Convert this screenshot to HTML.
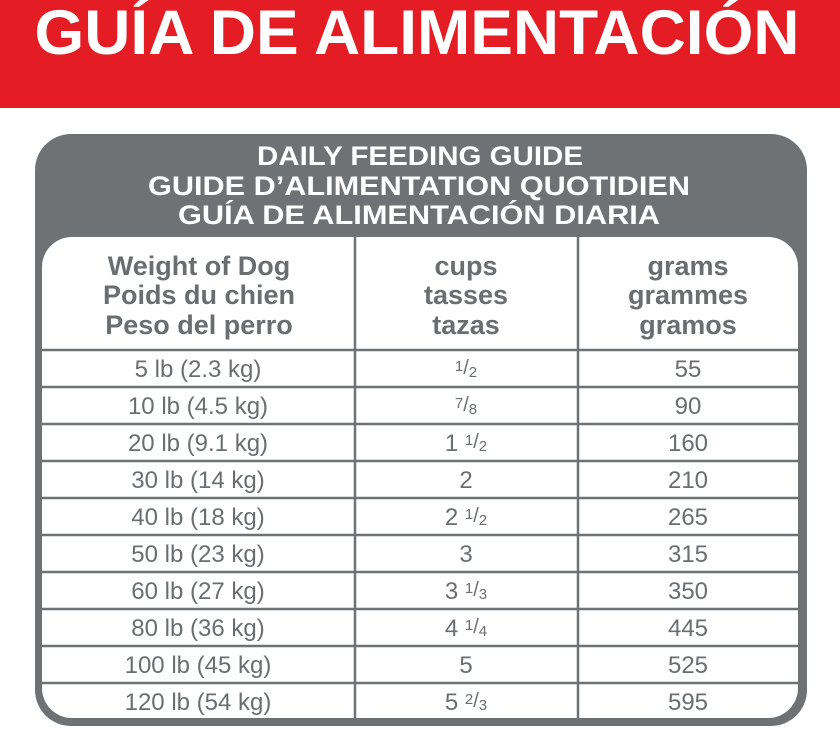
<!DOCTYPE html>
<html><head><meta charset="utf-8"><style>
html,body{margin:0;padding:0;background:#fff;}
svg{display:block;}
</style></head><body>
<svg width="840" height="740" viewBox="0 0 840 740" xmlns="http://www.w3.org/2000/svg">
<rect x="0" y="0" width="840" height="108" fill="#e41d24"/>
<text x="417" y="54" text-anchor="middle" font-family="Liberation Sans, sans-serif" font-weight="bold" font-size="63" fill="#fff" textLength="765" lengthAdjust="spacingAndGlyphs">GUÍA DE ALIMENTACIÓN</text>
<rect x="35" y="134" width="772" height="592" rx="36" fill="#6e7275"/>
<rect x="42" y="237" width="756" height="481" rx="30" fill="#fff"/>
<g font-family="Liberation Sans, sans-serif" font-weight="bold" font-size="27" fill="#fff" text-anchor="middle">
<text x="420" y="165" textLength="326" lengthAdjust="spacingAndGlyphs">DAILY FEEDING GUIDE</text>
<text x="419" y="195" textLength="542" lengthAdjust="spacingAndGlyphs">GUIDE D’ALIMENTATION QUOTIDIEN</text>
<text x="419" y="224" textLength="482" lengthAdjust="spacingAndGlyphs">GUÍA DE ALIMENTACIÓN DIARIA</text>
</g>
<g stroke="#6e7275" stroke-width="2.5">
<line x1="355" y1="237" x2="355" y2="718"/>
<line x1="578" y1="237" x2="578" y2="718"/>
<line x1="42" y1="350" x2="798" y2="350"/>
<line x1="42" y1="387" x2="798" y2="387"/>
<line x1="42" y1="424" x2="798" y2="424"/>
<line x1="42" y1="461" x2="798" y2="461"/>
<line x1="42" y1="498" x2="798" y2="498"/>
<line x1="42" y1="535" x2="798" y2="535"/>
<line x1="42" y1="572" x2="798" y2="572"/>
<line x1="42" y1="609" x2="798" y2="609"/>
<line x1="42" y1="646" x2="798" y2="646"/>
<line x1="42" y1="683" x2="798" y2="683"/>
</g>
<g font-family="Liberation Sans, sans-serif" font-weight="bold" font-size="27" fill="#6a6e71" text-anchor="middle">
<text x="199" y="275">Weight of Dog</text>
<text x="199" y="304">Poids du chien</text>
<text x="199" y="334">Peso del perro</text>
<text x="466" y="275">cups</text>
<text x="466" y="304">tasses</text>
<text x="466" y="334">tazas</text>
<text x="688" y="275">grams</text>
<text x="688" y="304">grammes</text>
<text x="688" y="334">gramos</text>
</g>
<g font-family="Liberation Sans, sans-serif" font-size="24" fill="#6a6e71" text-anchor="middle">
<text x="198" y="377">5 lb (2.3 kg)</text>
<text x="198" y="414">10 lb (4.5 kg)</text>
<text x="198" y="451">20 lb (9.1 kg)</text>
<text x="198" y="488">30 lb (14 kg)</text>
<text x="198" y="525">40 lb (18 kg)</text>
<text x="198" y="562">50 lb (23 kg)</text>
<text x="198" y="599">60 lb (27 kg)</text>
<text x="198" y="636">80 lb (36 kg)</text>
<text x="198" y="673">100 lb (45 kg)</text>
<text x="198" y="710">120 lb (54 kg)</text>
<text x="688" y="377">55</text>
<text x="688" y="414">90</text>
<text x="688" y="451">160</text>
<text x="688" y="488">210</text>
<text x="688" y="525">265</text>
<text x="688" y="562">315</text>
<text x="688" y="599">350</text>
<text x="688" y="636">445</text>
<text x="688" y="673">525</text>
<text x="688" y="710">595</text>
<text x="466" y="488">2</text>
<text x="466" y="562">3</text>
<text x="466" y="673">5</text>
</g>
<g font-family="Liberation Sans, sans-serif" fill="#6a6e71" text-anchor="middle">
<text x="466" y="377" font-size="24"><tspan font-size="15" dy="-6">1</tspan><tspan font-size="20" dy="3">/</tspan><tspan font-size="15" dy="3">2</tspan></text>
<text x="466" y="414" font-size="24"><tspan font-size="15" dy="-6">7</tspan><tspan font-size="20" dy="3">/</tspan><tspan font-size="15" dy="3">8</tspan></text>
<text x="466" y="451" font-size="24">1 <tspan font-size="15" dy="-6">1</tspan><tspan font-size="20" dy="3">/</tspan><tspan font-size="15" dy="3">2</tspan></text>
<text x="466" y="525" font-size="24">2 <tspan font-size="15" dy="-6">1</tspan><tspan font-size="20" dy="3">/</tspan><tspan font-size="15" dy="3">2</tspan></text>
<text x="466" y="599" font-size="24">3 <tspan font-size="15" dy="-6">1</tspan><tspan font-size="20" dy="3">/</tspan><tspan font-size="15" dy="3">3</tspan></text>
<text x="466" y="636" font-size="24">4 <tspan font-size="15" dy="-6">1</tspan><tspan font-size="20" dy="3">/</tspan><tspan font-size="15" dy="3">4</tspan></text>
<text x="466" y="710" font-size="24">5 <tspan font-size="15" dy="-6">2</tspan><tspan font-size="20" dy="3">/</tspan><tspan font-size="15" dy="3">3</tspan></text>
</g>
</svg>
</body></html>
